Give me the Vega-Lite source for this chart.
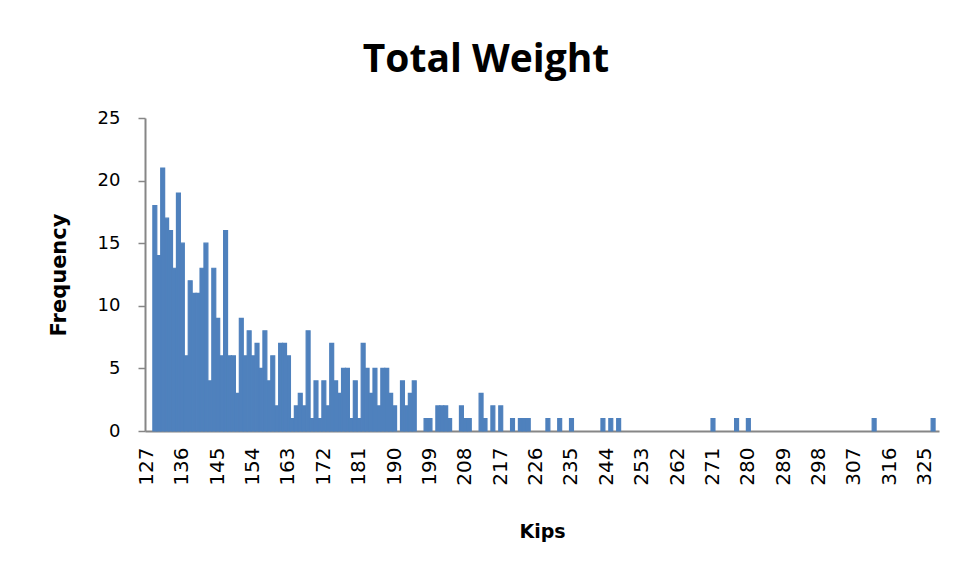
{
  "$schema": "https://vega.github.io/schema/vega-lite/v6.json",
  "width": 794,
  "height": 313,
  "autosize": {"type": "none"},
  "padding": {"left": 145, "top": 118, "right": 20, "bottom": 146},
  "background": "white",
  "title": {"text": "Total Weight", "font": "Open Sans", "fontSize": 39, "fontWeight": "bold", "color": "#000000", "anchor": "middle", "dx": -56, "offset": 29},
  "data": {"values": [
    {"kips": 129, "frequency": 18}, {"kips": 130, "frequency": 14}, {"kips": 131, "frequency": 21}, {"kips": 132, "frequency": 17},
    {"kips": 133, "frequency": 16}, {"kips": 134, "frequency": 13}, {"kips": 135, "frequency": 19}, {"kips": 136, "frequency": 15},
    {"kips": 137, "frequency": 6}, {"kips": 138, "frequency": 12}, {"kips": 139, "frequency": 11}, {"kips": 140, "frequency": 11},
    {"kips": 141, "frequency": 13}, {"kips": 142, "frequency": 15}, {"kips": 143, "frequency": 4}, {"kips": 144, "frequency": 13},
    {"kips": 145, "frequency": 9}, {"kips": 146, "frequency": 6}, {"kips": 147, "frequency": 16}, {"kips": 148, "frequency": 6},
    {"kips": 149, "frequency": 6}, {"kips": 150, "frequency": 3}, {"kips": 151, "frequency": 9}, {"kips": 152, "frequency": 6},
    {"kips": 153, "frequency": 8}, {"kips": 154, "frequency": 6}, {"kips": 155, "frequency": 7}, {"kips": 156, "frequency": 5},
    {"kips": 157, "frequency": 8}, {"kips": 158, "frequency": 4}, {"kips": 159, "frequency": 6}, {"kips": 160, "frequency": 2},
    {"kips": 161, "frequency": 7}, {"kips": 162, "frequency": 7}, {"kips": 163, "frequency": 6}, {"kips": 164, "frequency": 1},
    {"kips": 165, "frequency": 2}, {"kips": 166, "frequency": 3}, {"kips": 167, "frequency": 2}, {"kips": 168, "frequency": 8},
    {"kips": 169, "frequency": 1}, {"kips": 170, "frequency": 4}, {"kips": 171, "frequency": 1}, {"kips": 172, "frequency": 4},
    {"kips": 173, "frequency": 2}, {"kips": 174, "frequency": 7}, {"kips": 175, "frequency": 4}, {"kips": 176, "frequency": 3},
    {"kips": 177, "frequency": 5}, {"kips": 178, "frequency": 5}, {"kips": 179, "frequency": 1}, {"kips": 180, "frequency": 4},
    {"kips": 181, "frequency": 1}, {"kips": 182, "frequency": 7}, {"kips": 183, "frequency": 5}, {"kips": 184, "frequency": 3},
    {"kips": 185, "frequency": 5}, {"kips": 186, "frequency": 2}, {"kips": 187, "frequency": 5}, {"kips": 188, "frequency": 5},
    {"kips": 189, "frequency": 3}, {"kips": 190, "frequency": 2}, {"kips": 192, "frequency": 4}, {"kips": 193, "frequency": 2},
    {"kips": 194, "frequency": 3}, {"kips": 195, "frequency": 4}, {"kips": 198, "frequency": 1}, {"kips": 199, "frequency": 1},
    {"kips": 201, "frequency": 2}, {"kips": 202, "frequency": 2}, {"kips": 203, "frequency": 2}, {"kips": 204, "frequency": 1},
    {"kips": 207, "frequency": 2}, {"kips": 208, "frequency": 1}, {"kips": 209, "frequency": 1}, {"kips": 212, "frequency": 3},
    {"kips": 213, "frequency": 1}, {"kips": 215, "frequency": 2}, {"kips": 217, "frequency": 2}, {"kips": 220, "frequency": 1},
    {"kips": 222, "frequency": 1}, {"kips": 223, "frequency": 1}, {"kips": 224, "frequency": 1}, {"kips": 229, "frequency": 1},
    {"kips": 232, "frequency": 1}, {"kips": 235, "frequency": 1}, {"kips": 243, "frequency": 1}, {"kips": 245, "frequency": 1},
    {"kips": 247, "frequency": 1}, {"kips": 271, "frequency": 1}, {"kips": 277, "frequency": 1}, {"kips": 280, "frequency": 1},
    {"kips": 312, "frequency": 1}, {"kips": 327, "frequency": 1}
  ]},
  "mark": {"type": "bar", "color": "#4F81BD", "stroke": "#4F81BD", "strokeWidth": 1.2},
  "encoding": {
    "x": {
      "field": "kips",
      "type": "ordinal",
      "scale": {
        "domain": [127,128,129,130,131,132,133,134,135,136,137,138,139,140,141,142,143,144,145,146,147,148,149,150,151,152,153,154,155,156,157,158,159,160,161,162,163,164,165,166,167,168,169,170,171,172,173,174,175,176,177,178,179,180,181,182,183,184,185,186,187,188,189,190,191,192,193,194,195,196,197,198,199,200,201,202,203,204,205,206,207,208,209,210,211,212,213,214,215,216,217,218,219,220,221,222,223,224,225,226,227,228,229,230,231,232,233,234,235,236,237,238,239,240,241,242,243,244,245,246,247,248,249,250,251,252,253,254,255,256,257,258,259,260,261,262,263,264,265,266,267,268,269,270,271,272,273,274,275,276,277,278,279,280,281,282,283,284,285,286,287,288,289,290,291,292,293,294,295,296,297,298,299,300,301,302,303,304,305,306,307,308,309,310,311,312,313,314,315,316,317,318,319,320,321,322,323,324,325,326,327,328],
        "paddingInner": 0,
        "paddingOuter": 0
      },
      "axis": {
        "title": "Kips",
        "titleFont": "DejaVu Sans",
        "titleFontSize": 19,
        "titleFontWeight": "bold",
        "titleColor": "#000000",
        "titlePadding": 37,
        "values": [127,136,145,154,163,172,181,190,199,208,217,226,235,244,253,262,271,280,289,298,307,316,325],
        "labelAngle": -90,
        "labelAlign": "right",
        "labelBaseline": "middle",
        "labelFont": "DejaVu Sans",
        "labelFontSize": 20,
        "labelColor": "#000000",
        "labelPadding": 16,
        "ticks": false,
        "domainColor": "#868686",
        "domainWidth": 2
      }
    },
    "y": {
      "field": "frequency",
      "type": "quantitative",
      "scale": {"domain": [0, 25]},
      "axis": {
        "title": "Frequency",
        "titleFont": "DejaVu Sans",
        "titleFontSize": 21,
        "titleFontWeight": "bold",
        "titleColor": "#000000",
        "titlePadding": 28,
        "values": [0, 5, 10, 15, 20, 25],
        "labelFont": "DejaVu Sans",
        "labelFontSize": 18,
        "labelColor": "#000000",
        "labelPadding": 18,
        "tickSize": 7,
        "tickColor": "#868686",
        "tickWidth": 1.5,
        "domainColor": "#868686",
        "domainWidth": 2,
        "grid": false
      }
    }
  },
  "config": {"view": {"stroke": null}}
}
